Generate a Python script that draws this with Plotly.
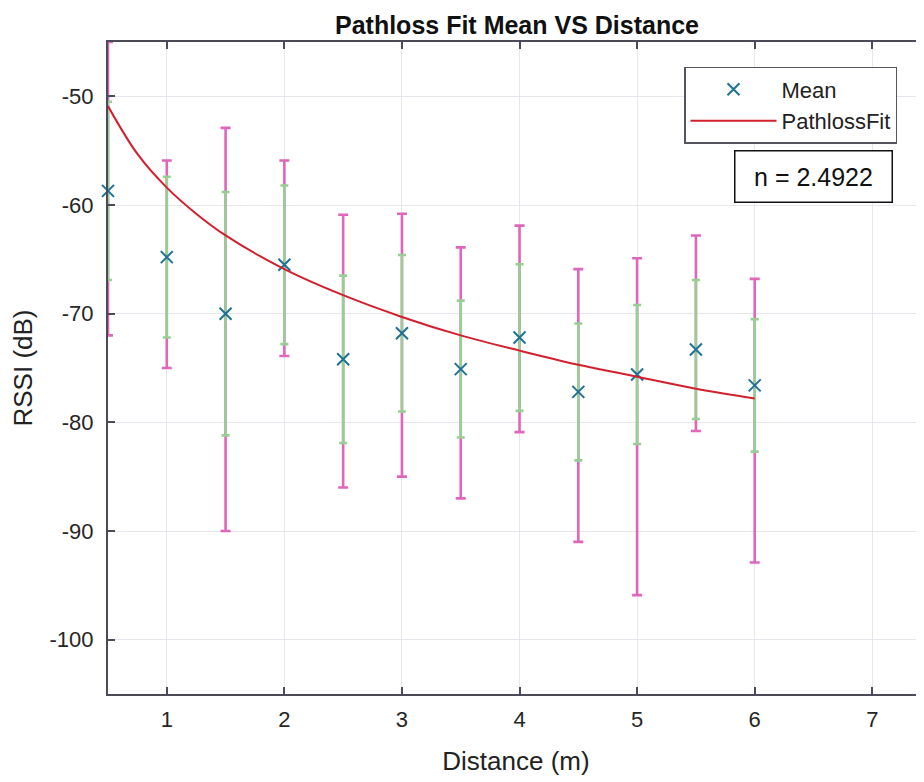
import plotly.graph_objects as go

# ---- data ----
distance = [0.5, 1, 1.5, 2, 2.5, 3, 3.5, 4, 4.5, 5, 5.5, 6]
mean_rssi = [-58.7, -64.8, -70.0, -65.5, -74.2, -71.8, -75.1, -72.2, -77.2, -75.6, -73.3, -76.6]
std_rssi = [8.2, 7.4, 11.2, 7.3, 7.7, 7.2, 6.3, 6.75, 6.3, 6.4, 6.4, 6.1]
max_rssi = [-45.0, -55.9, -52.9, -55.9, -60.9, -60.8, -63.9, -61.9, -65.9, -64.9, -62.8, -66.8]
min_rssi = [-72.0, -75.0, -90.0, -73.9, -86.0, -85.0, -87.0, -80.9, -91.0, -95.9, -80.8, -92.9]

fit_distance = [0.5, 0.75, 1, 1.25, 1.5, 2, 2.5, 3, 3.5, 4, 4.5, 5, 5.5, 6]
fit_rssi = [-50.9, -55.3, -58.4, -60.8, -62.8, -65.9, -68.3, -70.3, -72.0, -73.4, -74.7, -75.8, -76.9, -77.8]

x_ticks = [1, 2, 3, 4, 5, 6, 7]
y_ticks = [-100, -90, -80, -70, -60, -50]
n_label = "n = 2.4922"

err_plus = [mx - m for mx, m in zip(max_rssi, mean_rssi)]
err_minus = [m - mn for m, mn in zip(mean_rssi, min_rssi)]

FONT = "Liberation Sans, Arial, sans-serif"
fig = go.Figure()

# min/max bars (magenta)
fig.add_trace(go.Scatter(
    x=distance, y=mean_rssi, mode="markers", marker=dict(size=0.1, opacity=0),
    error_y=dict(type="data", symmetric=False, array=err_plus, arrayminus=err_minus,
                 color="#e065bb", thickness=2.6, width=5),
    showlegend=False, hoverinfo="skip", cliponaxis=False))

# std bars (green)
fig.add_trace(go.Scatter(
    x=distance, y=mean_rssi, mode="markers", marker=dict(size=0.1, opacity=0),
    error_y=dict(type="data", array=std_rssi, color="#97cf93", thickness=2.6, width=4),
    showlegend=False, hoverinfo="skip", cliponaxis=False))

# mean markers
fig.add_trace(go.Scatter(
    x=distance, y=mean_rssi, mode="markers", name="Mean",
    marker=dict(symbol="x-thin", size=12, line=dict(width=2, color="#1f7196"), color="#1f7196"),
    cliponaxis=False))

# pathloss fit
fig.add_trace(go.Scatter(
    x=fit_distance, y=fit_rssi, mode="lines", name="PathlossFit",
    line=dict(color="#d41f2e", width=2, shape="spline")))

fig.update_layout(
    width=916, height=774,
    margin=dict(l=100, r=0, t=34, b=88),
    paper_bgcolor="white", plot_bgcolor="white",
    font=dict(family=FONT, size=22, color="#262626"),
    title=dict(text="<b>Pathloss Fit Mean VS Distance</b>", x=(517 - 8) / 916, xanchor="center",
               xref="container", yref="container",
               y=1 - (25 - 8) / 774, yanchor="middle", font=dict(size=25, color="#111111")),
    showlegend=True,
    legend=dict(x=0.7059, y=0.9617, xanchor="left", yanchor="top",
                bordercolor="#555560", borderwidth=1.5, bgcolor="white",
                font=dict(size=22, color="#222222"), itemwidth=86,
                entrywidth=227, tracegroupgap=0),
)

fig.update_xaxes(
    range=[0.5, 7.44], tickvals=x_ticks, ticktext=[str(v) for v in x_ticks],
    showgrid=True, gridcolor="#e6e6ef", gridwidth=1,
    showline=True, linecolor="#4a4a58", linewidth=2, mirror="ticks",
    ticks="inside", ticklen=7, tickcolor="#4a4a58", tickwidth=1.5,
    ticklabelstandoff=5, zeroline=False, automargin=False,
    title=dict(text="Distance (m)", font=dict(size=26, color="#222222"), standoff=20),
)
fig.update_yaxes(
    range=[-105, -45], tickvals=y_ticks, ticktext=[str(v) for v in y_ticks],
    showgrid=True, gridcolor="#e6e6ef", gridwidth=1,
    showline=True, linecolor="#4a4a58", linewidth=2, mirror="ticks",
    ticks="inside", ticklen=7, tickcolor="#4a4a58", tickwidth=1.5,
    ticklabelstandoff=8, zeroline=False, automargin=False,
    title=dict(text="RSSI (dB)", font=dict(size=26, color="#222222"), standoff=24),
)

fig.add_annotation(
    text=n_label, xref="paper", yref="paper", x=0.864, y=0.793,
    xanchor="center", yanchor="middle", showarrow=False,
    font=dict(size=25, color="#111111"), bordercolor="#111111", borderwidth=1.5,
    bgcolor="white", width=150, height=44, borderpad=3,
)

fig.write_html("out.html")
